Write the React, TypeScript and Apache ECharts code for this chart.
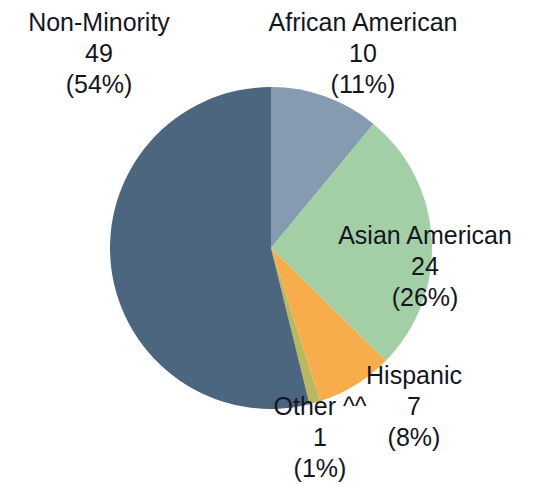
import React, { useEffect, useRef } from "react";
import * as echarts from "echarts";

const categories = ["African American", "Asian American", "Hispanic", "Other ^^", "Non-Minority"];
const values = [10, 24, 7, 1, 49];
const colors = ["#859bb0", "#a2cfa6", "#f8ad4d", "#b9b85e", "#4d667f"];
// label anchor positions (centre of the 3-line label block)
const labelX = [363, 425, 414, 320, 99];
const labelY = [53, 266, 406, 437, 53];

export default function App() {
  const ref = useRef<HTMLDivElement>(null);
  useEffect(() => {
    const chart = echarts.init(ref.current!, null, { renderer: "svg" });
    chart.setOption({
      animation: false,
      backgroundColor: "#ffffff",
      series: [
        {
          type: "pie",
          center: [271, 248],
          radius: 161,
          startAngle: 90,
          clockwise: true,
          percentPrecision: 0,
          avoidLabelOverlap: false,
          itemStyle: { borderWidth: 0 },
          emphasis: { disabled: true },
          labelLine: { show: false },
          label: {
            show: true,
            position: "outside",
            formatter: "{b}\n{c}\n({d}%)",
            fontFamily: "'Liberation Sans', Arial, sans-serif",
            fontSize: 25,
            lineHeight: 31,
            color: "#15151f",
            align: "center",
          },
          labelLayout: (p: any) => ({
            x: labelX[p.dataIndex],
            y: labelY[p.dataIndex],
            align: "center",
            verticalAlign: "middle",
          }),
          data: categories.map((c, i) => ({
            name: c,
            value: values[i],
            itemStyle: { color: colors[i] },
          })),
        },
      ],
    });
    return () => chart.dispose();
  }, []);
  return (
    <div
      ref={ref}
      style={{ position: "fixed", left: 0, top: 0, width: 554, height: 484 }}
    />
  );
}
